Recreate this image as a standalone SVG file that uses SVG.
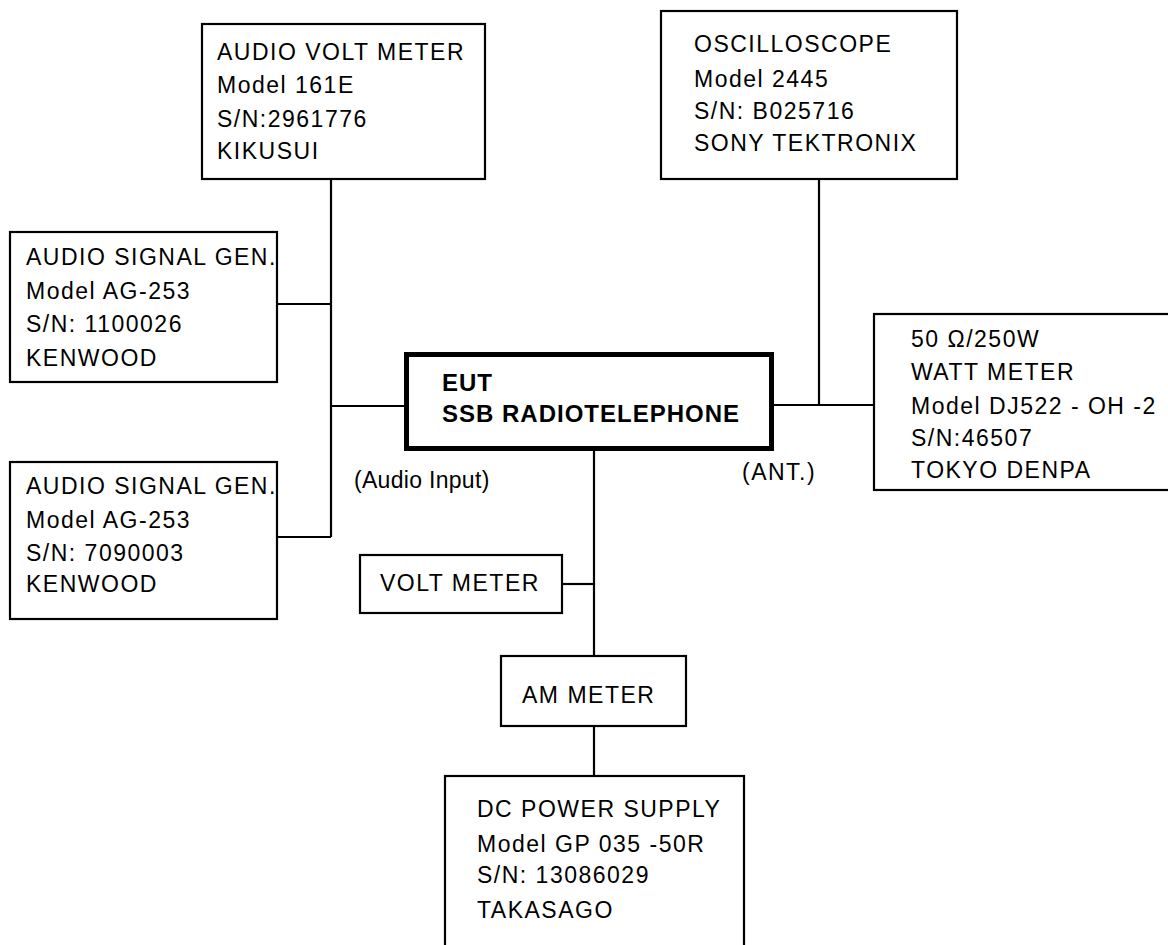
<svg xmlns="http://www.w3.org/2000/svg" width="1168" height="945" viewBox="0 0 1168 945">
<style>
  .box { fill: #ffffff; stroke: #000000; stroke-width: 2.2; }
  .eut { fill: #ffffff; stroke: #000000; stroke-width: 5; }
  .t { font-family: "Liberation Sans", Arial, sans-serif; font-size: 23px; fill: #000000; letter-spacing: 1.5px; }
  .b { font-family: "Liberation Sans", Arial, sans-serif; font-size: 24px; font-weight: bold; fill: #000000; letter-spacing: 1px; }
  .wire { stroke: #000000; stroke-width: 2.2; fill: none; }
</style>
<rect x="0" y="0" width="1168" height="945" fill="#ffffff"/>
<g id="connectors">
  <line class="wire" x1="331" y1="179" x2="331" y2="537"/>
  <line class="wire" x1="277" y1="304" x2="331" y2="304"/>
  <line class="wire" x1="277" y1="537" x2="331" y2="537"/>
  <line class="wire" x1="331" y1="406" x2="406" y2="406"/>
  <line class="wire" x1="771" y1="405" x2="874" y2="405"/>
  <line class="wire" x1="819" y1="179" x2="819" y2="405"/>
  <line class="wire" x1="594" y1="449" x2="594" y2="656"/>
  <line class="wire" x1="562" y1="584" x2="594" y2="584"/>
  <line class="wire" x1="594" y1="726" x2="594" y2="776"/>
</g>
<g id="audio-volt-meter">
  <rect class="box" x="202" y="24" width="283" height="155"/>
  <text class="t" x="217" y="60">AUDIO VOLT METER</text>
  <text class="t" x="217" y="93">Model 161E</text>
  <text class="t" x="217" y="127">S/N:2961776</text>
  <text class="t" x="217" y="159">KIKUSUI</text>
</g>
<g id="audio-signal-gen-1">
  <rect class="box" x="10" y="232" width="267" height="150"/>
  <text class="t" x="26" y="265">AUDIO SIGNAL GEN.</text>
  <text class="t" x="26" y="299">Model AG-253</text>
  <text class="t" x="26" y="332">S/N: 1100026</text>
  <text class="t" x="26" y="366">KENWOOD</text>
</g>
<g id="audio-signal-gen-2">
  <rect class="box" x="10" y="462" width="267" height="157"/>
  <text class="t" x="26" y="494">AUDIO SIGNAL GEN.</text>
  <text class="t" x="26" y="528">Model AG-253</text>
  <text class="t" x="26" y="561">S/N: 7090003</text>
  <text class="t" x="26" y="592">KENWOOD</text>
</g>
<g id="oscilloscope">
  <rect class="box" x="661" y="11" width="296" height="168"/>
  <text class="t" x="694" y="52">OSCILLOSCOPE</text>
  <text class="t" x="694" y="87">Model 2445</text>
  <text class="t" x="694" y="119">S/N: B025716</text>
  <text class="t" x="694" y="151">SONY TEKTRONIX</text>
</g>
<g id="eut">
  <rect class="eut" x="406.5" y="354.5" width="365" height="94"/>
  <text class="b" x="442" y="391">EUT</text>
  <text class="b" x="442" y="422">SSB RADIOTELEPHONE</text>
</g>
<g id="labels">
  <text class="t" x="354" y="488" style="letter-spacing:0.3px">(Audio Input)</text>
  <text class="t" x="742" y="480">(ANT.)</text>
</g>
<g id="watt-meter">
  <rect class="box" x="874" y="314" width="310" height="176"/>
  <text class="t" x="911" y="347">50 Ω/250W</text>
  <text class="t" x="911" y="380">WATT METER</text>
  <text class="t" x="911" y="414">Model DJ522 - OH -2</text>
  <text class="t" x="911" y="446">S/N:46507</text>
  <text class="t" x="911" y="478">TOKYO DENPA</text>
</g>
<g id="volt-meter">
  <rect class="box" x="360" y="555" width="202" height="58"/>
  <text class="t" x="380" y="591">VOLT METER</text>
</g>
<g id="am-meter">
  <rect class="box" x="501" y="656" width="185" height="70"/>
  <text class="t" x="522" y="703">AM METER</text>
</g>
<g id="dc-power-supply">
  <rect class="box" x="445" y="776" width="299" height="200"/>
  <text class="t" x="477" y="817">DC POWER SUPPLY</text>
  <text class="t" x="477" y="852">Model GP 035 -50R</text>
  <text class="t" x="477" y="883">S/N: 13086029</text>
  <text class="t" x="477" y="918">TAKASAGO</text>
</g>
</svg>
